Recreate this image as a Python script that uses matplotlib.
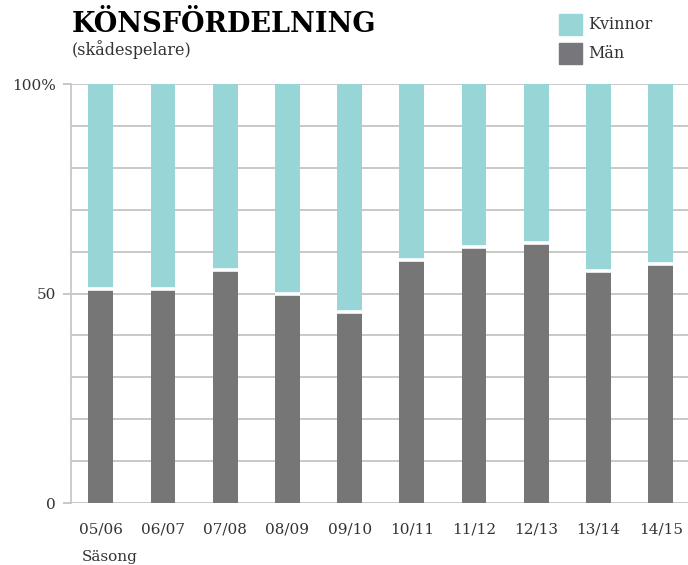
import numpy as np
import matplotlib
matplotlib.use("Agg")
from matplotlib import pyplot as plt
from matplotlib.patches import Rectangle

# data (share of actors, %)
seasons = ["05/06", "06/07", "07/08", "08/09", "09/10",
           "10/11", "11/12", "12/13", "13/14", "14/15"]
men = [51, 51, 55.5, 50, 45.5, 58, 61.2, 62, 55.3, 57]
women = [100 - m for m in men]

teal = "#97d5d6"
grey = "#767676"
txt = "#333333"

fig = plt.figure(figsize=(6.88, 5.65), dpi=100)
ax = fig.add_axes([0.1032, 0.1097, 0.8968, 0.7416])

x = np.arange(len(seasons))
w = 0.4
ax.bar(x, men, width=w, color=grey, linewidth=0, zorder=3)
ax.bar(x, women, bottom=men, width=w, color=teal, linewidth=0, zorder=3)
# white separator between the two segments
ax.hlines(men, x - w / 2, x + w / 2, color="white", linewidth=2.6, zorder=4)

ax.set_xlim(-0.48, 9.44)
ax.set_ylim(0, 100)

# gridlines
ax.set_yticks([0, 50, 100])
ax.set_yticklabels(["0", "50", "100%"])
ax.set_yticks(np.arange(10, 100, 10), minor=True)
ax.grid(axis="y", which="both", color="#c4c4c4", linewidth=1.3, zorder=0)
ax.tick_params(axis="y", which="major", length=6, width=1.3, color="#c4c4c4",
               labelsize=11, labelcolor=txt, pad=5)
ax.tick_params(axis="y", which="minor", length=0)
ax.tick_params(axis="x", length=0, labelsize=11, labelcolor=txt, pad=14)
ax.set_xticks(x)
ax.set_xticklabels(seasons)
for lab in ax.get_xticklabels() + ax.get_yticklabels():
    lab.set_family("DejaVu Serif")
    lab.set_fontweight("light")

for s in ["top", "right", "bottom"]:
    ax.spines[s].set_visible(False)
ax.spines["left"].set_color("#c8c8c8")
ax.spines["left"].set_linewidth(1.3)

# titles
fig.text(72 / 688, 1 - 24 / 565, "KÖNSFÖRDELNING", family="DejaVu Serif",
         fontweight="heavy", fontsize=19.5, va="center", ha="left", color="black")
fig.text(72 / 688, 1 - 50 / 565, "(skådespelare)", family="DejaVu Serif",
         fontsize=11.5, va="center", ha="left", color=txt)
fig.text(82 / 688, 1 - 557 / 565, "Säsong", family="DejaVu Serif",
         fontsize=11, va="center", ha="left", color=txt)

# legend
for i, (lbl, col) in enumerate([("Kvinnor", teal), ("Män", "#77777b")]):
    y0 = 14 + i * 29
    fig.patches.append(Rectangle((559 / 688, 1 - (y0 + 21) / 565), 23 / 688, 21 / 565,
                                 transform=fig.transFigure, color=col))
    fig.text(588 / 688, 1 - (y0 + 10.5) / 565, lbl, family="DejaVu Serif",
             fontsize=11.5, va="center", ha="left", color=txt)

fig.savefig("out.png", dpi=100)
